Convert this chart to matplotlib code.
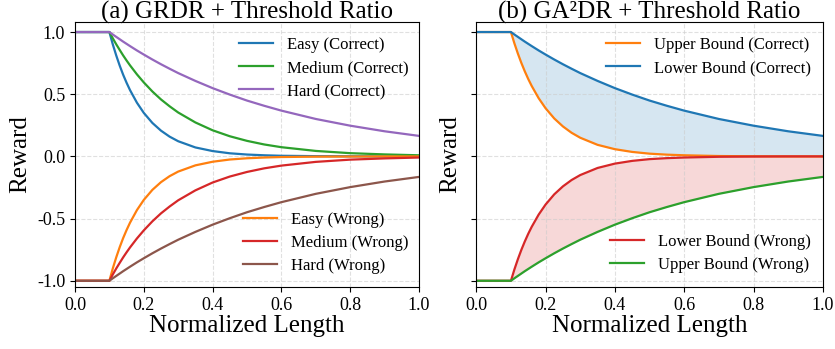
import matplotlib
matplotlib.use("Agg")
import matplotlib.pyplot as plt

plt.rcParams['font.family'] = ['Liberation Serif', 'DejaVu Serif']
plt.rcParams['axes.unicode_minus'] = False

# sample points on the normalized length axis
length = [0.0, 0.1, 0.11, 0.12, 0.13, 0.14, 0.15, 0.16, 0.18, 0.2, 0.225, 0.25,
          0.275, 0.3, 0.35, 0.4, 0.45, 0.5, 0.55, 0.6, 0.7, 0.8, 0.9, 1.0]

# (a) GRDR rewards for correct answers (wrong answers mirror them)
easy = [1.0, 1.0, 0.900, 0.811, 0.730, 0.657, 0.592, 0.533, 0.432, 0.350, 0.269, 0.207,
        0.159, 0.122, 0.072, 0.043, 0.025, 0.015, 0.009, 0.005, 0.002, 0.001, 0.0, 0.0]
medium = [1.0, 1.0, 0.949, 0.901, 0.856, 0.812, 0.771, 0.732, 0.660, 0.595, 0.522, 0.458,
          0.403, 0.353, 0.273, 0.210, 0.162, 0.125, 0.096, 0.074, 0.044, 0.026, 0.016, 0.009]
hard = [1.0, 1.0, 0.980, 0.961, 0.942, 0.923, 0.905, 0.887, 0.852, 0.819, 0.779, 0.741,
        0.705, 0.670, 0.607, 0.549, 0.497, 0.449, 0.407, 0.368, 0.301, 0.247, 0.202, 0.165]
easy_wrong = [-v for v in easy]
medium_wrong = [-v for v in medium]
hard_wrong = [-v for v in hard]

# (b) GA2DR bounds
upper_correct = [1.0, 1.0, 0.909, 0.827, 0.752, 0.684, 0.622, 0.566, 0.468, 0.387, 0.305, 0.241,
                 0.190, 0.150, 0.093, 0.058, 0.036, 0.022, 0.014, 0.009, 0.003, 0.001, 0.0, 0.0]
lower_correct = hard
lower_wrong = [-v for v in upper_correct]
upper_wrong = hard_wrong

fig = plt.figure(figsize=(8.35, 3.49), dpi=100)
ax1 = fig.add_axes([0.0898, 0.1777, 0.412, 0.759])
ax2 = fig.add_axes([0.5704, 0.1777, 0.415, 0.759])

lw = 1.6
leg_kw = dict(frameon=False, fontsize=12, handlelength=2.05, labelspacing=0.42)

l1, = ax1.plot(length, easy, color='#1f77b4', lw=lw, label='Easy (Correct)')
l2, = ax1.plot(length, medium, color='#2ca02c', lw=lw, label='Medium (Correct)')
l3, = ax1.plot(length, hard, color='#9467bd', lw=lw, label='Hard (Correct)')
l4, = ax1.plot(length, easy_wrong, color='#ff7f0e', lw=lw, label='Easy (Wrong)')
l5, = ax1.plot(length, medium_wrong, color='#d62728', lw=lw, label='Medium (Wrong)')
l6, = ax1.plot(length, hard_wrong, color='#8c564b', lw=lw, label='Hard (Wrong)')

leg1 = ax1.legend(handles=[l1, l2, l3], loc='upper right', bbox_to_anchor=(1.012, 1.0), **leg_kw)
ax1.add_artist(leg1)
ax1.legend(handles=[l4, l5, l6], loc='lower right', bbox_to_anchor=(1.012, -0.008), **leg_kw)

ax2.fill_between(length, upper_correct, lower_correct, color='#1f77b4', alpha=0.18, lw=0)
ax2.fill_between(length, lower_wrong, upper_wrong, color='#d62728', alpha=0.18, lw=0)
r1, = ax2.plot(length, upper_correct, color='#ff7f0e', lw=lw, label='Upper Bound (Correct)')
r2, = ax2.plot(length, lower_correct, color='#1f77b4', lw=lw, label='Lower Bound (Correct)')
r3, = ax2.plot(length, lower_wrong, color='#d62728', lw=lw, label='Lower Bound (Wrong)')
r4, = ax2.plot(length, upper_wrong, color='#2ca02c', lw=lw, label='Upper Bound (Wrong)')

leg2 = ax2.legend(handles=[r1, r2], loc='upper right', bbox_to_anchor=(1.008, 1.0), **leg_kw)
ax2.add_artist(leg2)
ax2.legend(handles=[r3, r4], loc='lower right', bbox_to_anchor=(1.008, -0.005), **leg_kw)

ax1.set_title('(a) GRDR + Threshold Ratio', fontsize=18, y=1.015, pad=0, va='baseline')
ax2.set_title('(b) GA²DR + Threshold Ratio', fontsize=18, y=1.015, pad=0, va='baseline')

for ax in (ax1, ax2):
    ax.set_xlim(0, 1)
    ax.set_ylim(-1.05, 1.08)
    ax.set_xticks([0.0, 0.2, 0.4, 0.6, 0.8, 1.0])
    ax.set_yticks([-1.0, -0.5, 0.0, 0.5, 1.0])
    ax.grid(True, linestyle='--', color='#cccccc', alpha=0.6, lw=0.8)
    ax.set_xlabel('Normalized Length', fontsize=18, labelpad=1)
    ax.set_ylabel('Reward', fontsize=18, labelpad=4)
    ax.tick_params(labelsize=13)
ax2.set_yticklabels([])

fig.savefig('out.png', dpi=100)
